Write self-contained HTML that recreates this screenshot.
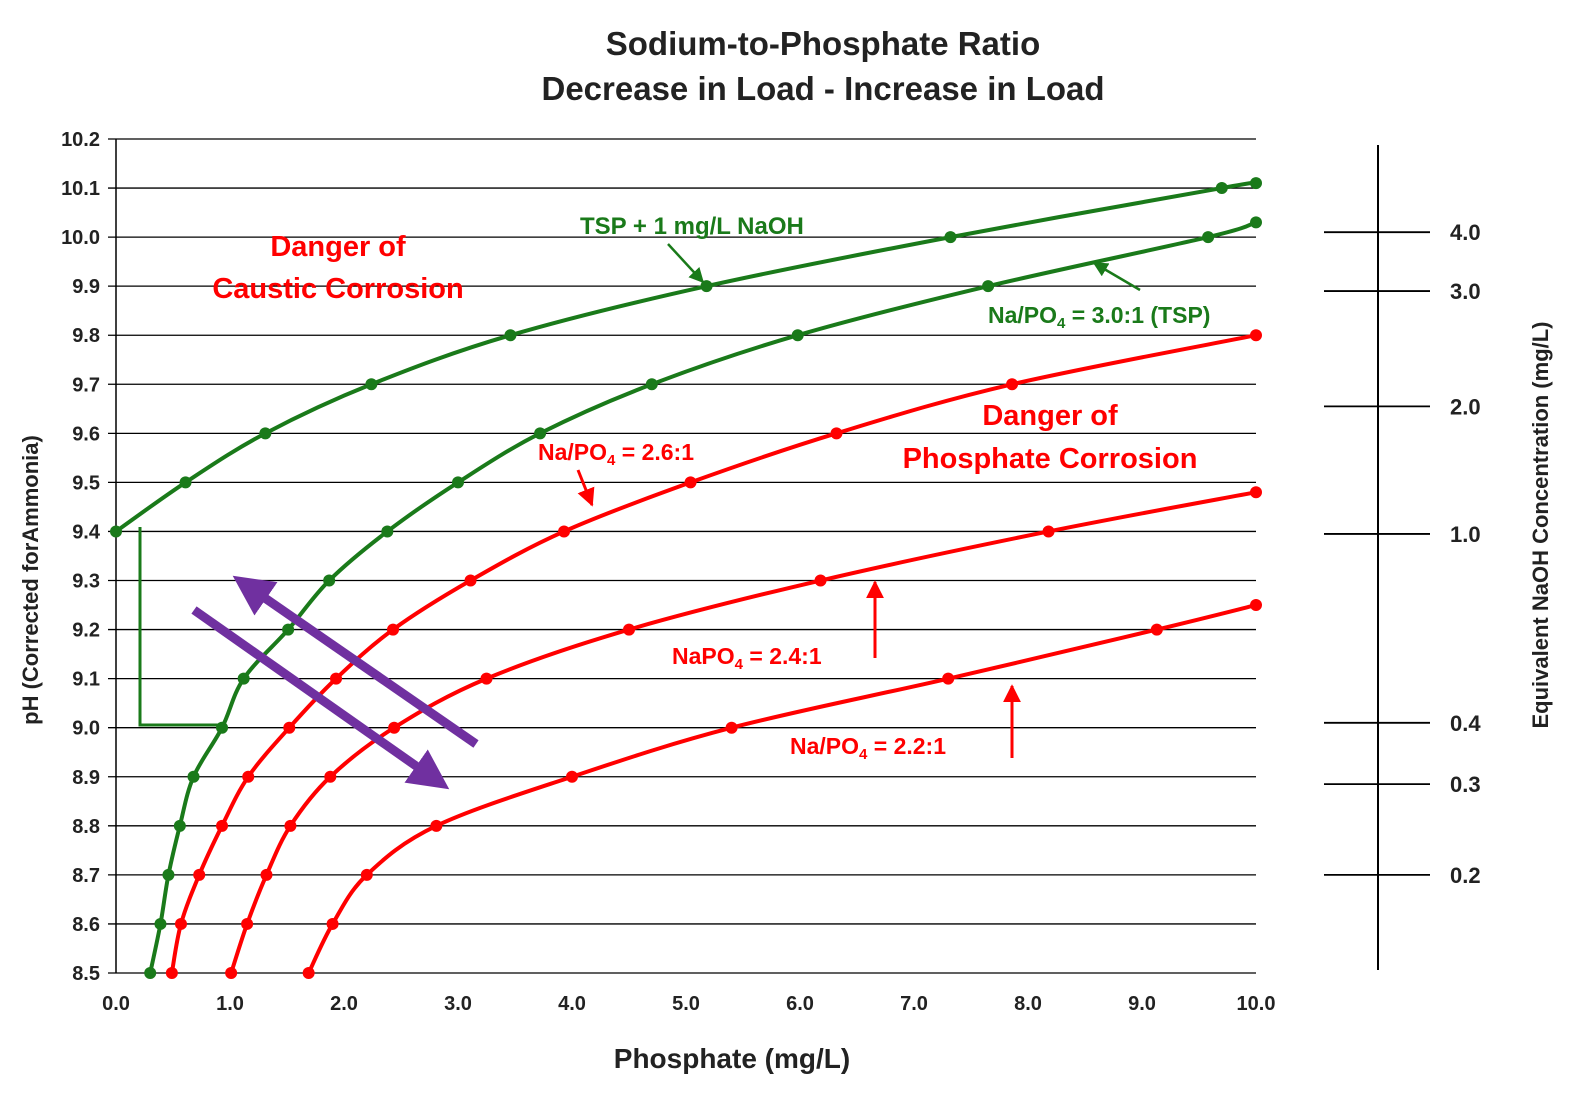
<!DOCTYPE html>
<html><head><meta charset="utf-8"><style>
body{margin:0;background:#fff;}
svg text{font-family:"Liberation Sans",Arial,sans-serif;font-weight:bold;}
</style></head><body>
<svg id="c" width="1580" height="1101" viewBox="0 0 1580 1101" xmlns="http://www.w3.org/2000/svg">
<defs>
<marker id="ar" viewBox="0 0 10 10" refX="9" refY="5" markerWidth="6" markerHeight="6" orient="auto-start-reverse"><path d="M0,0L10,5L0,10z" fill="#ff0000"/></marker>
<marker id="ag" viewBox="0 0 10 10" refX="9" refY="5" markerWidth="6" markerHeight="6" orient="auto-start-reverse"><path d="M0,0L10,5L0,10z" fill="#1a7a1a"/></marker>
<marker id="ap" viewBox="0 0 10 10" refX="6" refY="5" markerWidth="4.5" markerHeight="4.5" orient="auto-start-reverse"><path d="M0,0L10,5L0,10z" fill="#7030a0"/></marker>
</defs>
<text x="823" y="55" font-size="33" text-anchor="middle" fill="#222">Sodium-to-Phosphate Ratio</text>
<text x="823" y="100" font-size="33" text-anchor="middle" fill="#222">Decrease in Load - Increase in Load</text>
<g id="grid"></g><g id="axes"></g><g id="series"></g>
<text x="732" y="1068" font-size="28" text-anchor="middle" fill="#222">Phosphate (mg/L)</text>
<text transform="translate(38,580) rotate(-90)" font-size="22" text-anchor="middle" fill="#222" font-weight="normal">pH (Corrected forAmmonia)</text>
<text transform="translate(1548,525) rotate(-90)" font-size="22" text-anchor="middle" fill="#222" font-weight="normal">Equivalent NaOH Concentration (mg/L)</text>
<path d="M140,527 L140,725 L223,725" fill="none" stroke="#1a7a1a" stroke-width="3"/>
<line x1="476" y1="744" x2="246" y2="585" stroke="#7030a0" stroke-width="9" marker-end="url(#ap)"/>
<line x1="194" y1="610" x2="436" y2="780" stroke="#7030a0" stroke-width="9" marker-end="url(#ap)"/>
<text x="338" y="256" font-size="29" fill="#ff0000" text-anchor="middle">Danger of</text>
<text x="338" y="298" font-size="29" fill="#ff0000" text-anchor="middle">Caustic Corrosion</text>
<text x="1050" y="425" font-size="29" fill="#ff0000" text-anchor="middle">Danger of</text>
<text x="1050" y="468" font-size="29" fill="#ff0000" text-anchor="middle">Phosphate Corrosion</text>
<text x="580" y="234" font-size="24" fill="#1a7a1a">TSP + 1 mg/L NaOH</text>
<line x1="668" y1="244" x2="703" y2="282" stroke="#1a7a1a" stroke-width="2.5" marker-end="url(#ag)"/>
<text x="988" y="323" font-size="23" fill="#1a7a1a" font-weight="normal">Na/PO<tspan font-size="15" dy="5">4</tspan><tspan dy="-5"> = 3.0:1 (TSP)</tspan></text>
<line x1="1140" y1="290" x2="1094" y2="263" stroke="#1a7a1a" stroke-width="2.5" marker-end="url(#ag)"/>
<text x="538" y="460" font-size="23" fill="#ff0000">Na/PO<tspan font-size="15" dy="5">4</tspan><tspan dy="-5"> = 2.6:1</tspan></text>
<line x1="578" y1="470" x2="592" y2="505" stroke="#ff0000" stroke-width="3" marker-end="url(#ar)"/>
<text x="672" y="664" font-size="23" fill="#ff0000">NaPO<tspan font-size="15" dy="5">4</tspan><tspan dy="-5"> = 2.4:1</tspan></text>
<line x1="875" y1="658" x2="875" y2="582" stroke="#ff0000" stroke-width="3" marker-end="url(#ar)"/>
<text x="790" y="754" font-size="23" fill="#ff0000">Na/PO<tspan font-size="15" dy="5">4</tspan><tspan dy="-5"> = 2.2:1</tspan></text>
<line x1="1012" y1="758" x2="1012" y2="686" stroke="#ff0000" stroke-width="3" marker-end="url(#ar)"/>
<g id="right"></g>
</svg>
<script>
const xTicks=[0,1,2,3,4,5,6,7,8,9,10];
const yTicks=[8.5,8.6,8.7,8.8,8.9,9.0,9.1,9.2,9.3,9.4,9.5,9.6,9.7,9.8,9.9,10.0,10.1,10.2];
const tspNaohX=[0,0.61,1.31,2.24,3.46,5.18,7.32,9.70,10];
const tspNaohY=[9.4,9.5,9.6,9.7,9.8,9.9,10.0,10.1,10.11];
const tspX=[0.30,0.39,0.46,0.56,0.68,0.93,1.12,1.51,1.87,2.38,3.0,3.72,4.70,5.98,7.65,9.58,10];
const tspY=[8.5,8.6,8.7,8.8,8.9,9.0,9.1,9.2,9.3,9.4,9.5,9.6,9.7,9.8,9.9,10.0,10.03];
const r26X=[0.49,0.57,0.73,0.93,1.16,1.52,1.93,2.43,3.11,3.93,5.04,6.32,7.86,10];
const r26Y=[8.5,8.6,8.7,8.8,8.9,9.0,9.1,9.2,9.3,9.4,9.5,9.6,9.7,9.8];
const r24X=[1.01,1.15,1.32,1.53,1.88,2.44,3.25,4.5,6.18,8.18,10];
const r24Y=[8.5,8.6,8.7,8.8,8.9,9.0,9.1,9.2,9.3,9.4,9.48];
const r22X=[1.69,1.90,2.20,2.81,4.0,5.40,7.30,9.13,10];
const r22Y=[8.5,8.6,8.7,8.8,8.9,9.0,9.1,9.2,9.25];
const rightLabels=["4.0","3.0","2.0","1.0","0.4","0.3","0.2"];
const rightPH=[10.01,9.89,9.655,9.395,9.01,8.885,8.7];
const NS="http://www.w3.org/2000/svg";
const sx=v=>116+v*114, sy=v=>973-(v-8.5)/0.1*49.06;
function mk(t,a,p){const e=document.createElementNS(NS,t);for(const k in a)e.setAttribute(k,a[k]);p.appendChild(e);return e;}
const g=document.getElementById('grid'),ax=document.getElementById('axes'),se=document.getElementById('series'),rg=document.getElementById('right');
yTicks.forEach(v=>{const l=mk('line',{x1:108,x2:1256,y1:sy(v),y2:sy(v),stroke:'#000','stroke-width':1.3},g);


const t=mk('text',{x:100,y:sy(v)+7,'font-size':20,'text-anchor':'end',fill:'#222'},ax);t.textContent=v.toFixed(1);

});
xTicks.forEach(v=>{const t=mk('text',{x:sx(v),y:1010,'font-size':20,'text-anchor':'middle',fill:'#222'},ax);t.textContent=v.toFixed(1);

});
const ya=mk('line',{x1:116,x2:116,y1:sy(10.2),y2:973,stroke:'#000','stroke-width':1.5},ax);


function path(X,Y){const P=X.map((x,i)=>[sx(x),sy(Y[i])]);let d='M'+P[0];
for(let i=0;i<P.length-1;i++){const p0=P[i-1]||P[i],p1=P[i],p2=P[i+1],p3=P[i+2]||p2;
const c1=[p1[0]+(p2[0]-p0[0])/6,p1[1]+(p2[1]-p0[1])/6],c2=[p2[0]-(p3[0]-p1[0])/6,p2[1]-(p3[1]-p1[1])/6];
d+='C'+c1+' '+c2+' '+p2;}return d;}
function series(X,Y,col,name){const p=mk('path',{d:path(X,Y),fill:'none',stroke:col,'stroke-width':4},se);


X.forEach((x,i)=>{const c=mk('circle',{cx:sx(x),cy:sy(Y[i]),r:6,fill:col},se);

});}
series(tspNaohX,tspNaohY,'#1a7a1a','series-tsp-naoh');
series(tspX,tspY,'#1a7a1a','series-tsp');
series(r26X,r26Y,'#ff0000','series-2-6');
series(r24X,r24Y,'#ff0000','series-2-4');
series(r22X,r22Y,'#ff0000','series-2-2');
const ra=mk('line',{x1:1378,x2:1378,y1:145,y2:970,stroke:'#000','stroke-width':2},rg);


rightLabels.forEach((s,i)=>{const y=sy(rightPH[i]);
const l=mk('line',{x1:1324,x2:1430,y1:y,y2:y,stroke:'#000','stroke-width':1.8},rg);


const t=mk('text',{x:1450,y:y+8,'font-size':22,fill:'#222'},rg);t.textContent=s;

});
</script>
</body></html>
